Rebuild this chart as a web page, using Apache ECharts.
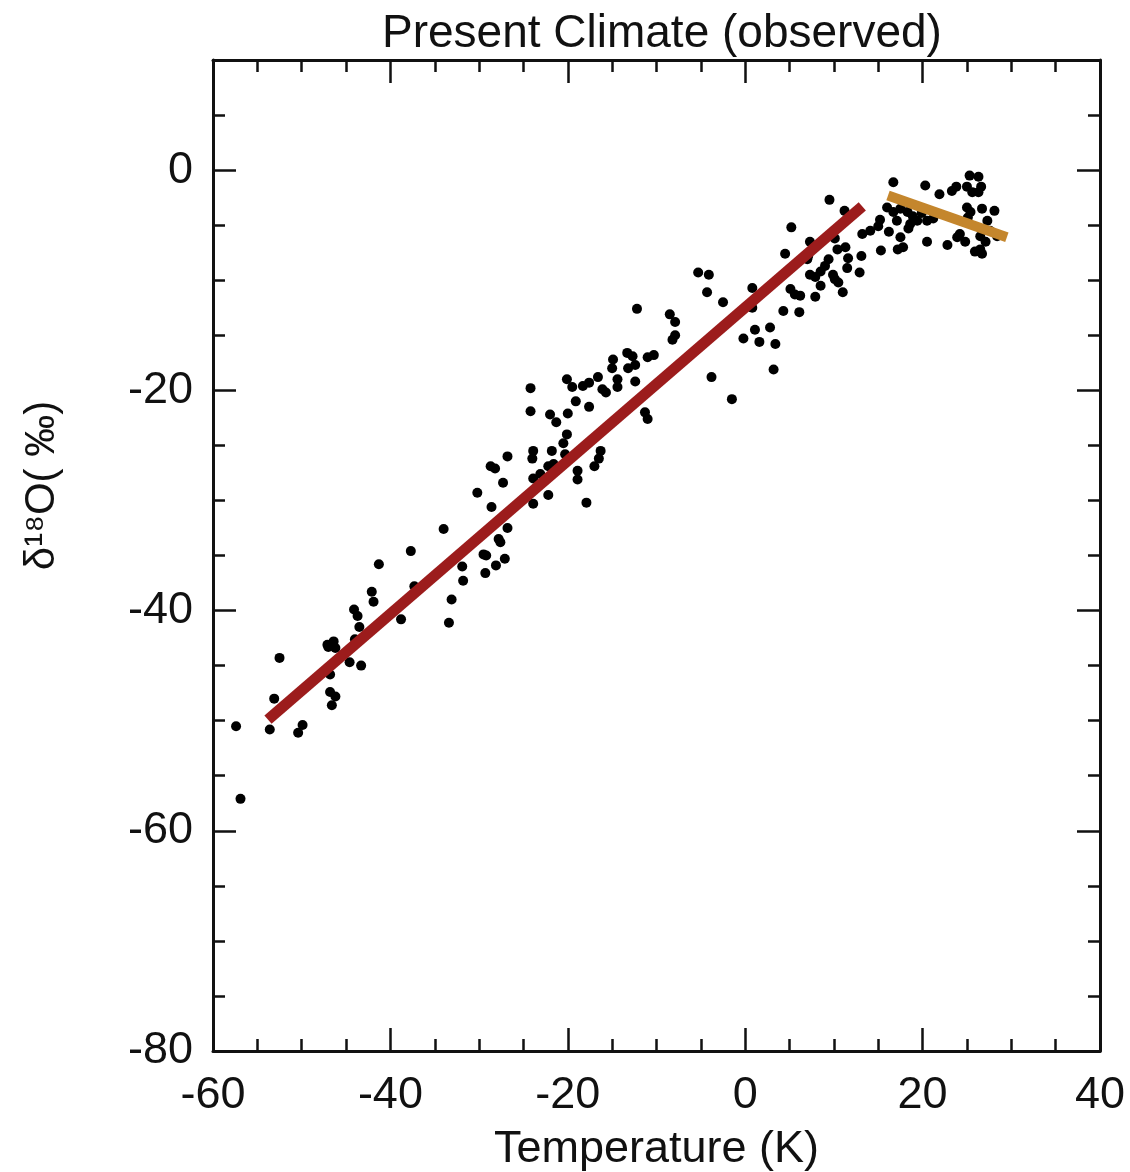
<!DOCTYPE html>
<html>
<head>
<meta charset="utf-8">
<title>Present Climate (observed)</title>
<script src="https://cdn.jsdelivr.net/npm/echarts@6/dist/echarts.min.js"></script>
<style>
  html, body { margin: 0; padding: 0; background: #fff; }
  #chart { width: 1130px; height: 1172px; }
</style>
</head>
<body>
<div id="chart"></div>
<script>
// observed stations: temperature (K) and delta 18O (permil)
var tempK = [
  -44.1, -43.7, -43.5, -41.9, -38.8, -33.4, -52.5, -47.1, -46.4, -46.2, -47.0, -44.0,
  -44.6, -43.3, -46.8, -46.8, -46.2, -46.6, -53.1, -53.6, -49.9, -50.4, -57.4, -56.9,
  -41.3, -42.1,
  -24.2, -24.2, -22.0, -21.3, -20.0, -20.1, -20.5, -23.9, -24.0, -21.8, -20.3, -21.6,
  -22.2, -28.7, -28.2, -26.8, -27.3, -23.9, -23.1, -18.9, -18.9, -16.3, -16.5, -17.0,
  -30.2, -28.6, -22.2, -23.9, -17.9, -34.0, -26.8, -27.8, -27.6, -37.7, -29.5, -29.2,
  -27.1, -28.1, -31.9, -29.3, -31.8, -37.3, -33.1, -12.4, -19.1, -17.6, -11.3, -11.0,
  -4.3, -2.5, -12.2, -8.5, -7.9, -7.9, -8.2, -0.2, -13.3, -12.7, -11.0, -10.3,
  -14.9, -15.0, -13.2, -12.4, -20.1, -19.5, -18.3, -17.6, -16.6, -16.1, -15.7, -14.4,
  -14.4, -3.8, -1.5,
  16.7, 20.3, 9.5, 11.2, 16.0, 16.7, 17.5, 18.3, 18.9, 17.1, 18.6, 19.4,
  20.5, 15.2, 15.0, 14.1, 13.2, 16.2, 18.4, 17.5, 20.5, 5.2, 10.1, 7.3,
  10.4, 11.3, 15.3, 17.2, 17.8, 4.5, 11.6, 13.1, 9.4, 9.0, 8.5, 7.1,
  7.0, 11.5, 12.9, 7.3, 7.9, 9.9, 10.1, 10.5, 8.5, -5.3, -4.1, 0.8,
  5.1, 5.6, 6.2, 7.9, 11.0, 0.8, 4.3, 6.1, 1.1, 2.8, 1.6, 3.4, 3.2,
  21.9, 23.3, 23.8, 25.3, 26.3, 25.0, 25.6, 26.3, 26.6, 25.0, 25.4, 25.1,
  26.7, 28.1, 27.3, 26.7, 27.6, 28.4, 24.2, 23.9, 24.8, 26.5, 27.1, 26.5,
  26.7, 25.9, 22.8, 21.2, 19.9
];
var delta18O = [
  -39.9, -40.5, -41.5, -39.2, -40.8, -41.1, -44.3, -43.1, -42.8, -43.4, -43.3, -42.6,
  -44.7, -45.0, -45.8, -47.4, -47.8, -48.6, -48.0, -50.8, -50.4, -51.1, -50.5, -57.1,
  -35.8, -38.3,
  -19.8, -21.9, -22.2, -22.9, -22.1, -24.0, -24.8, -25.5, -26.2, -25.5, -25.8, -26.7,
  -26.9, -26.9, -27.1, -26.0, -28.4, -28.0, -27.6, -27.3, -28.1, -25.5, -26.2, -26.9,
  -29.3, -30.6, -29.5, -30.3, -30.2, -32.6, -32.5, -33.5, -33.8, -34.6, -34.9, -35.0,
  -35.3, -35.9, -36.0, -36.6, -37.3, -37.8, -39.0, -19.2, -21.0, -21.5, -22.0, -22.6,
  -11.1, -12.0, -12.6, -13.1, -13.8, -15.0, -15.4, -15.3, -16.6, -16.9, -17.0, -16.8,
  -17.2, -18.0, -18.0, -17.7, -19.0, -19.7, -19.6, -19.3, -18.8, -19.9, -20.2, -19.0,
  -19.7, -18.8, -20.8,
  -1.1, -1.4, -2.7, -3.7, -3.4, -3.8, -3.5, -3.8, -4.2, -4.6, -4.9, -4.6,
  -4.6, -4.5, -5.1, -5.5, -5.8, -5.6, -5.3, -6.1, -6.5, -5.2, -6.2, -6.5,
  -7.2, -7.0, -7.3, -7.2, -7.0, -7.6, -8.0, -7.8, -8.1, -8.7, -9.2, -7.8,
  -8.1, -8.9, -9.3, -9.5, -9.7, -9.5, -9.9, -10.2, -10.5, -9.3, -9.5, -10.7,
  -10.8, -11.3, -11.4, -11.5, -11.1, -12.5, -12.8, -12.9, -14.5, -14.3, -15.6, -15.8, -18.1,
  -2.2, -1.9, -1.5, -0.5, -0.6, -1.5, -2.0, -2.0, -1.5, -3.4, -3.8, -4.3,
  -3.5, -3.7, -4.6, -5.4, -5.5, -6.0, -5.8, -6.1, -6.5, -6.0, -6.5, -7.2,
  -7.6, -7.4, -6.8, -4.4, -3.9
];
// fitted lines (end points)
var coldFitT = [-53.8, 13.2];
var coldFitD = [-49.9, -3.3];
var warmFitT = [16.1, 29.5];
var warmFitD = [-2.3, -6.1];

var xTicks = { min: -60, max: 40, step: 20 };
var yTicks = { min: -80, max: 10, step: 20 };

function pairs (xs, ys) {
  return xs.map(function (x, i) { return [x, ys[i]] })
}

var FONT = '"Liberation Sans", Arial, Helvetica, sans-serif'
var INK = '#111'

function xAxisOf (pos, labels) {
  return {
    type: 'value',
    position: pos,
    min: xTicks.min,
    max: xTicks.max,
    interval: xTicks.step,
    axisLine: { show: true, onZero: false, lineStyle: { color: INK, width: 3 } },
    axisTick: { show: true, inside: true, length: 23, lineStyle: { color: INK, width: 2.5 } },
    minorTick: { show: true, splitNumber: 4, length: 12, lineStyle: { color: INK, width: 2.5 } },
    axisLabel: { show: labels, margin: 22, color: INK, fontSize: 45, fontFamily: FONT },
    splitLine: { show: false },
    name: labels ? 'Temperature (K)' : '',
    nameLocation: 'middle',
    nameGap: 76,
    nameTextStyle: { color: INK, fontSize: 45, fontFamily: FONT }
  }
}

// major ticks every 20 and minor ticks every 5 are drawn by two axes on each side
function yAxisOf (pos, major, labels) {
  var ax = {
    type: 'value',
    position: pos,
    min: yTicks.min,
    max: yTicks.max,
    interval: major ? yTicks.step : 5,
    axisLine: { show: major, onZero: false, lineStyle: { color: INK, width: 3 } },
    axisTick: { show: true, inside: true, length: major ? 23 : 12, lineStyle: { color: INK, width: 2.5 } },
    axisLabel: { show: labels, showMaxLabel: false, margin: 20, color: INK, fontSize: 45, fontFamily: FONT },
    splitLine: { show: false }
  }
  if (labels) {
    ax.name = 'δ¹⁸O( ‰)'
    ax.nameLocation = 'middle'
    ax.nameGap = 150
    ax.nameRotate = 90
    ax.nameTextStyle = { color: INK, fontSize: 42, fontFamily: FONT, padding: [0, 0, 0, 140] }
  }
  return ax
}

var chart = echarts.init(document.getElementById('chart'))
chart.setOption({
  backgroundColor: '#fff',
  animation: false,
  title: {
    text: 'Present Climate (observed)',
    left: 377,
    top: 6,
    textStyle: { color: INK, fontSize: 46, fontWeight: 'normal', fontFamily: FONT }
  },
  grid: { left: 213, right: 30, top: 60, bottom: 121, outerBoundsMode: 'none' },
  xAxis: [xAxisOf('bottom', true), xAxisOf('top', false)],
  yAxis: [
    yAxisOf('left', true, true),
    yAxisOf('left', false, false),
    yAxisOf('right', true, false),
    yAxisOf('right', false, false)
  ],
  series: [
    {
      name: 'stations',
      type: 'scatter',
      symbol: 'circle',
      symbolSize: 10,
      itemStyle: { color: '#000', opacity: 1 },
      data: pairs(tempK, delta18O),
      z: 2
    },
    {
      name: 'cold fit',
      type: 'line',
      symbol: 'none',
      lineStyle: { color: '#9c1c1c', width: 11, cap: 'butt' },
      data: pairs(coldFitT, coldFitD),
      z: 3
    },
    {
      name: 'warm fit',
      type: 'line',
      symbol: 'none',
      lineStyle: { color: '#c4862d', width: 10, cap: 'butt' },
      data: pairs(warmFitT, warmFitD),
      z: 3
    }
  ]
})
</script>
</body>
</html>
